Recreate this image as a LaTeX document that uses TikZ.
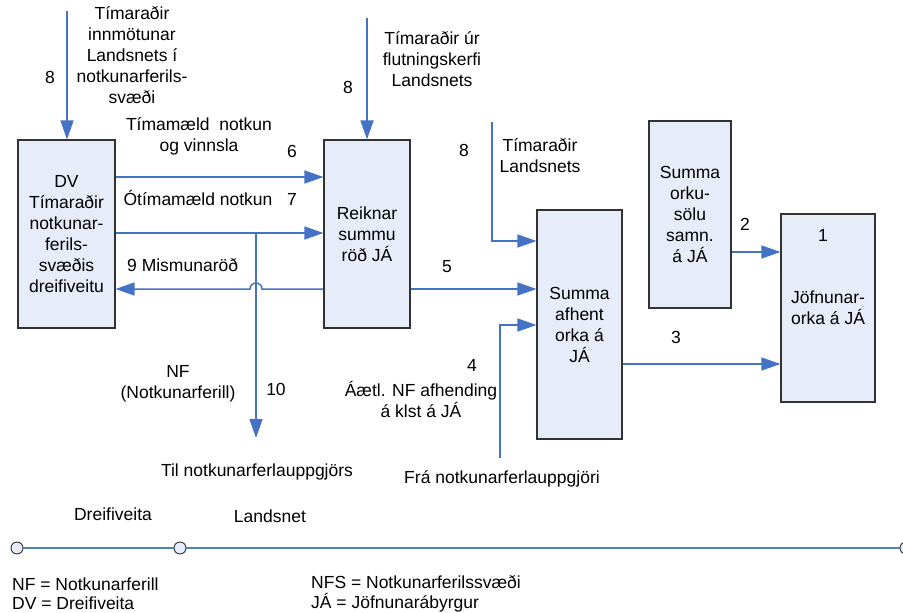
\documentclass[tikz,border=0pt]{standalone}
\usepackage{fontspec}
\setmainfont{Liberation Sans}
\usetikzlibrary{arrows.meta}
\definecolor{boxfill}{RGB}{230,236,248}
\definecolor{boxline}{RGB}{50,50,50}
\definecolor{flow}{RGB}{68,114,196}
\definecolor{tl}{RGB}{79,129,189}
\begin{document}
\begin{tikzpicture}[x=1pt,y=-1pt,
  every node/.style={font=\fontsize{17.5}{21}\selectfont, inner sep=0pt},
  procbox/.style={draw=boxline, fill=boxfill, line width=1.1pt, align=center},
  flowarrow/.style={draw=flow, line width=1.5pt, -{Triangle[length=19pt,width=13pt]}},
  lbl/.style={anchor=base},
  lblw/.style={anchor=base west},
  endpt/.style={circle, draw=boxline, fill=boxfill, line width=0.9pt, minimum size=12pt}
]
\useasboundingbox (0,0) rectangle (903,613);

% boxes
\node[procbox, minimum width=97pt, minimum height=188pt] (dv) at (66.5,234) {DV\\Tímaraðir\\notkunar-\\ferils-\\svæðis\\dreifiveitu};
\node[procbox, minimum width=86pt, minimum height=188pt] (rk) at (367,234) {Reiknar\\summu\\röð JÁ};
\node[procbox, minimum width=85pt, minimum height=229pt] (sa) at (579.5,324.5) {Summa\\afhent\\orka á\\JÁ};
\node[procbox, minimum width=82pt, minimum height=187pt] (so) at (690,214.5) {Summa\\orku-\\sölu\\samn.\\á JÁ};
\node[procbox, minimum width=94pt, minimum height=188pt] (jf) at (828,308) {Jöfnunar-\\orka á JÁ};

% free ends
\coordinate (s8a) at (67,11);
\coordinate (s8b) at (367,18);
\coordinate (s8c) at (492,122);
\coordinate (s4) at (500,458);
\coordinate (j7) at (256,233);
\coordinate (e10) at (256,438);
\coordinate (hop) at (262,289);

% connectors
\draw[flowarrow] (s8a) -- (s8a |- dv.north);
\draw[flowarrow] (s8b) -- (rk.north);
\draw[flowarrow] (s8c) |- (sa.west |- 0,241);
\draw[flowarrow] (dv.east |- 0,177) -- (rk.west |- 0,177);
\draw[flowarrow] (dv.east |- 0,233) -- (rk.west |- 0,233);
\draw[flowarrow] (j7) -- (e10);
\draw[flowarrow] (rk.west |- 0,289) -- (hop) arc[start angle=0, end angle=180, radius=6pt] -- (dv.east |- 0,289);
\draw[flowarrow] (rk.east |- 0,289) -- (sa.west |- 0,289);
\draw[flowarrow] (s4) |- (sa.west |- 0,325);
\draw[flowarrow] (sa.east |- 0,364) -- (jf.west |- 0,364);
\draw[flowarrow] (so.east |- 0,252) -- (jf.west |- 0,252);

% labels
\node[lbl] (n8a) at (50,83) {8};
\node[align=center] (t8a) at (132,55) {Tímaraðir\\innmötunar\\Landsnets í\\notkunarferils-\\svæði};
\node[lbl] (n8b) at (348,93) {8};
\node[align=center] (t8b) at (432,59) {Tímaraðir úr\\flutningskerfi\\Landsnets};
\node[align=center] (t6) at (199,136) {Tímamæld\ \ notkun\\og vinnsla};
\node[lbl] (n6) at (292,157) {6};
\node[lbl] (t7) at (198,205) {Ótímamæld notkun};
\node[lbl] (n7) at (292,205) {7};
\node[lblw] (t9) at (127,271) {9 Mismunaröð};
\node[lbl] (n5) at (447,272) {5};
\node[align=center] (t8c) at (540,156) {Tímaraðir\\Landsnets};
\node[lbl] (n8c) at (464,156) {8};
\node[lbl] (n2) at (745,230) {2};
\node[lbl] (n1) at (823,241) {1};
\node[lbl] (n3) at (676,343) {3};
\node[lbl] (n4) at (472,371) {4};
\node[lbl] (tnf) at (178,377) {NF};
\node[lbl] (tnf2) at (178,398) {(Notkunarferill)};
\node[lbl] (n10) at (276,395) {10};
\node[lbl] (t4a) at (421,396) {Áætl. NF afhending};
\node[lbl] (t4b) at (421,417) {á klst á JÁ};
\node[lbl] (ttil) at (257,476) {Til notkunarferlauppgjörs};
\node[lbl] (tfra) at (502,483) {Frá notkunarferlauppgjöri};
\node[lbl] (tdr) at (113,520) {Dreifiveita};
\node[lbl] (tla) at (270,522) {Landsnet};

% timeline
\node[endpt] (c1) at (17,548) {};
\node[endpt] (c2) at (180,548) {};
\node[endpt] (c3) at (906,548) {};
\draw[tl, line width=2pt] (c1) -- (c2) -- (c3);

% key
\node[lblw] (k1) at (12,590) {NF = Notkunarferill};
\node[lblw] (k2) at (12,609) {DV = Dreifiveita};
\node[lblw] (k3) at (311,588) {NFS = Notkunarferilssvæði};
\node[lblw] (k4) at (311,608) {JÁ = Jöfnunarábyrgur};
\end{tikzpicture}
\end{document}
